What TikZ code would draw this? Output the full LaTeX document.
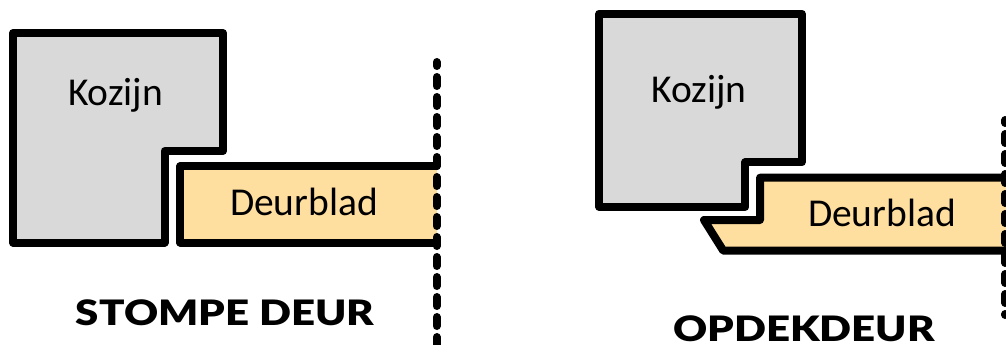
\documentclass[tikz,border=0pt]{standalone}
\usepackage{fontspec}
\setmainfont{Carlito}
\newfontfamily\heavyfont[FakeStretch=1.2]{Lato Black}
\definecolor{kozijngray}{HTML}{D9D9D9}
\definecolor{deurorange}{HTML}{FFDFA0}
\tikzset{outline/.style={draw=black,line width=8pt,line join=round,line cap=round},
  kozijn/.style={outline,fill=kozijngray},
  deurfill/.style={fill=deurorange},
  hinge/.style={outline,dash pattern=on 9pt off 11pt},
  mylabel/.style={anchor=base,inner sep=0pt,font=\fontsize{39.5}{41}\selectfont},
  mytitle/.style={anchor=base,inner sep=0pt,font=\fontsize{35}{35}\heavyfont}}
\begin{document}
\begin{tikzpicture}[x=1pt,y=-1pt]
    \useasboundingbox (0,0) rectangle (1006,345);
    \clip (0,0) rectangle (1006,345);
    % stompe deur
    \draw[kozijn] (13,33) -- (223,33) -- (223,151) -- (164.5,151) -- (164.5,242.5) -- (13,242.5) -- cycle;
    \fill[deurfill] (180.3,166.3) rectangle (436.7,242.5);
    \draw[outline] (436.7,166.3) -- (180.3,166.3) -- (180.3,242.5) -- (436.7,242.5);
    \draw[hinge,dash phase=5pt] (436.7,62) -- (436.7,350);
    \node[mylabel] (kozijn-a) at (115.5,105) {Kozijn};
    \node[mylabel] (deur-a) at (304,215) {Deurblad};
    \node[mytitle] (title-a) at (225,325) {STOMPE DEUR};
    % opdekdeur
    \draw[kozijn] (599.3,13.7) -- (801.7,13.7) -- (801.7,162.3) -- (745.3,162.3) -- (745.3,207) -- (599.3,207) -- cycle;
    \fill[deurfill] (760,177.7) -- (1006,177.7) -- (1006,250.7) -- (723.3,250.7) -- (704,220) -- (760,220) -- cycle;
    \draw[outline] (1010,177.7) -- (760,177.7) -- (760,220) -- (704,220) -- (723.3,250.7) -- (1010,250.7);
    \draw[hinge,dash phase=6pt] (1005.3,120) -- (1005.3,315);
    \node[mylabel] (kozijn-b) at (699,102.7) {Kozijn};
    \node[mylabel] (deur-b) at (882,226) {Deurblad};
    \node[mytitle] (title-b) at (804,341) {OPDEKDEUR};
\end{tikzpicture}
\end{document}
